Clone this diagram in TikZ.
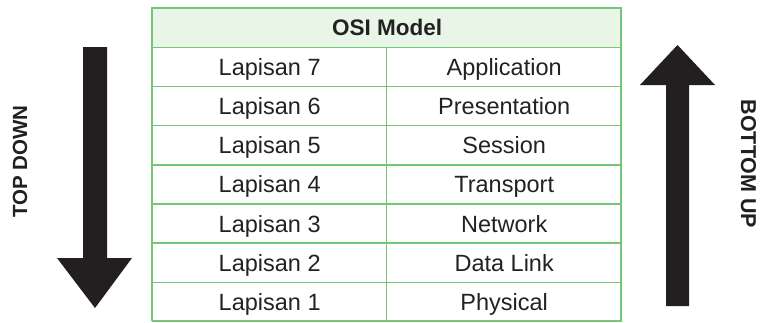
\documentclass[tikz,border=0pt]{standalone}
\usepackage{fontspec}
\setmainfont{Liberation Sans}
\definecolor{gridgreen}{HTML}{74C774}
\definecolor{headfill}{HTML}{E9F5E6}
\definecolor{txt}{HTML}{222222}
\definecolor{arrowblk}{HTML}{231F20}
\tikzset{
  cell/.style={draw=gridgreen, line width=1.4pt, minimum height=39.15pt, inner sep=0pt, text height=17pt, text depth=0pt, anchor=north west, text=txt, font=\fontsize{23.5}{26}\selectfont},
  leftcell/.style={cell, minimum width=234pt},
  rightcell/.style={cell, minimum width=235pt},
  headcell/.style={cell, fill=headfill, minimum width=469pt, text height=16pt, font=\fontsize{22.5}{26}\selectfont\bfseries},
  sidelabel/.style={text=arrowblk, inner sep=0pt},
  bigarrow/.style={fill=arrowblk, draw=none}
}
\begin{document}
\begin{tikzpicture}[x=1pt,y=-1pt]
\useasboundingbox (0,0) rectangle (763,322);
\fill[white] (0,0) rectangle (763,322);
% table
\node[headcell] (head) at (152,7.5) {OSI Model};
\foreach \n/\nm [count=\i] in {7/Application,6/Presentation,5/Session,4/Transport,3/Network,2/Data Link,1/Physical}{
  \node[leftcell] (l\n) at (152,{7.5+39.15*\i}) {Lapisan \n};
  \node[rightcell] (r\n) at (386,{7.5+39.15*\i}) {\nm};
}
\draw[gridgreen, line width=1.4pt] (152,7.5) rectangle (621,320.7);
% left arrow (top down)
\fill[bigarrow] (83,47) -- (107,47) -- (107,258) -- (132,258) -- (95,308) -- (57,258) -- (83,258) -- cycle;
% right arrow (bottom up)
\fill[bigarrow] (666,306) -- (689,306) -- (689,85) -- (715,85) -- (677.5,45) -- (640,85) -- (666,85) -- cycle;
\node[sidelabel, rotate=90, font=\fontsize{20.5}{22}\selectfont\bfseries] (td) at (20,161.5) {TOP DOWN};
\node[sidelabel, rotate=-90, font=\fontsize{21.5}{24}\selectfont\bfseries] (bu) at (748.5,164) {BOTTOM UP};
\end{tikzpicture}
\end{document}
